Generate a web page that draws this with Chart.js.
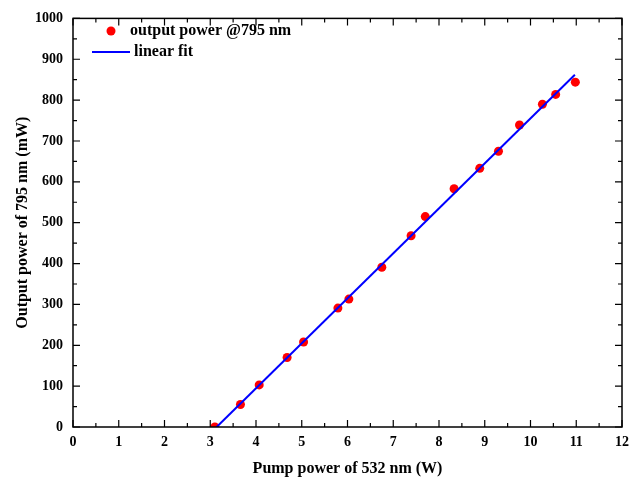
<!DOCTYPE html>
<html>
<head>
<meta charset="utf-8">
<script src="https://cdn.jsdelivr.net/npm/chart.js@4"></script>
<style>
  html, body { margin: 0; padding: 0; background: #fff; }
  #wrap { width: 637px; height: 478px; }
</style>
</head>
<body>
<div id="wrap"><canvas id="myChart" width="637" height="478"></canvas></div>
<script>
// measured points (pump power W, output power mW)
const pumpPower = [3.10, 3.66, 4.07, 4.68, 5.04, 5.79, 6.03, 6.75, 7.39, 7.70, 8.33, 8.89, 9.30, 9.76, 10.26, 10.55, 10.98];
const outputPower = [0, 55, 103, 170, 208, 291, 313, 391, 468, 515, 583, 633, 675, 739, 790, 814, 844];
// linear fit end points
const fitX = [3.14, 10.97];
const fitY = [0, 862];

const xTicks = [0, 1, 2, 3, 4, 5, 6, 7, 8, 9, 10, 11, 12];
const yTicks = [0, 100, 200, 300, 400, 500, 600, 700, 800, 900, 1000];

const serif = "'Liberation Serif', 'DejaVu Serif', serif";

// frame, inward ticks and legend
const framePlugin = {
    id: 'frame',
    afterDraw(chart) {
        const ctx = chart.ctx;
        const a = chart.chartArea;
        const xs = chart.scales.x;
        const ys = chart.scales.y;
        ctx.save();
        ctx.strokeStyle = '#000';
        ctx.lineWidth = 1.5;
        ctx.strokeRect(a.left, a.top, a.right - a.left, a.bottom - a.top);
        ctx.lineWidth = 1.2;
        ctx.beginPath();
        for (let v = 0; v <= 12.001; v += 0.5) {
            const px = xs.getPixelForValue(v);
            const len = Number.isInteger(v) ? 7 : 4;
            ctx.moveTo(px, a.bottom); ctx.lineTo(px, a.bottom - len);
            ctx.moveTo(px, a.top); ctx.lineTo(px, a.top + len);
        }
        for (let v = 0; v <= 1000.1; v += 50) {
            const py = ys.getPixelForValue(v);
            const len = (v % 100 === 0) ? 7 : 4;
            ctx.moveTo(a.left, py); ctx.lineTo(a.left + len, py);
            ctx.moveTo(a.right, py); ctx.lineTo(a.right - len, py);
        }
        ctx.stroke();

        // legend
        const ds = chart.data.datasets;
        ctx.font = 'bold 16px ' + serif;
        ctx.textBaseline = 'middle';
        ctx.fillStyle = ds[0].backgroundColor;
        ctx.beginPath();
        ctx.arc(111, 31, 4.5, 0, Math.PI * 2);
        ctx.fill();
        ctx.fillStyle = '#000';
        ctx.fillText(ds[0].label, 130, 31);
        ctx.strokeStyle = ds[1].borderColor;
        ctx.lineWidth = 2;
        ctx.beginPath();
        ctx.moveTo(92, 52); ctx.lineTo(130, 52);
        ctx.stroke();
        ctx.fillText(ds[1].label, 134, 52);
        ctx.restore();
    }
};

const ctx = document.getElementById('myChart').getContext('2d');
const myChart = new Chart(ctx, {
    type: 'scatter',
    data: {
        datasets: [
            {
                label: 'output power @795 nm',
                data: pumpPower.map((p, i) => ({ x: p, y: outputPower[i] })),
                backgroundColor: '#ff0000',
                borderColor: '#ff0000',
                pointRadius: 4.5,
                pointBorderWidth: 0,
                showLine: false,
                order: 1
            },
            {
                label: 'linear fit',
                data: fitX.map((p, i) => ({ x: p, y: fitY[i] })),
                borderColor: '#0000ff',
                backgroundColor: '#0000ff',
                borderWidth: 2,
                pointRadius: 0,
                showLine: true,
                order: 0
            }
        ]
    },
    options: {
        responsive: false,
        animation: false,
        layout: { padding: { left: 0, right: 15, top: 13, bottom: 0 } },
        plugins: {
            legend: { display: false },
            tooltip: { enabled: false }
        },
        scales: {
            x: {
                type: 'linear',
                min: 0,
                max: 12,
                afterBuildTicks: s => { s.ticks = xTicks.map(v => ({ value: v })); },
                afterFit: s => { s.height = 51; },
                grid: { display: false, drawTicks: false },
                border: { display: false },
                ticks: {
                    padding: 7,
                    color: '#000',
                    callback: v => String(v),
                    font: { family: serif, size: 14, weight: 'bold' }
                },
                title: {
                    display: true,
                    text: 'Pump power of 532 nm (W)',
                    color: '#000',
                    padding: { top: 2, bottom: 0 },
                    font: { family: serif, size: 16, weight: 'bold' }
                }
            },
            y: {
                type: 'linear',
                min: 0,
                max: 1000,
                afterBuildTicks: s => { s.ticks = yTicks.map(v => ({ value: v })); },
                afterFit: s => { s.width = 73; },
                grid: { display: false, drawTicks: false },
                border: { display: false },
                ticks: {
                    padding: 10,
                    color: '#000',
                    callback: v => String(v),
                    font: { family: serif, size: 14, weight: 'bold' }
                },
                title: {
                    display: true,
                    text: 'Output power of 795 nm (mW)',
                    color: '#000',
                    padding: { top: 13, bottom: 0 },
                    font: { family: serif, size: 16, weight: 'bold' }
                }
            }
        }
    },
    plugins: [framePlugin]
});
</script>
</body>
</html>
